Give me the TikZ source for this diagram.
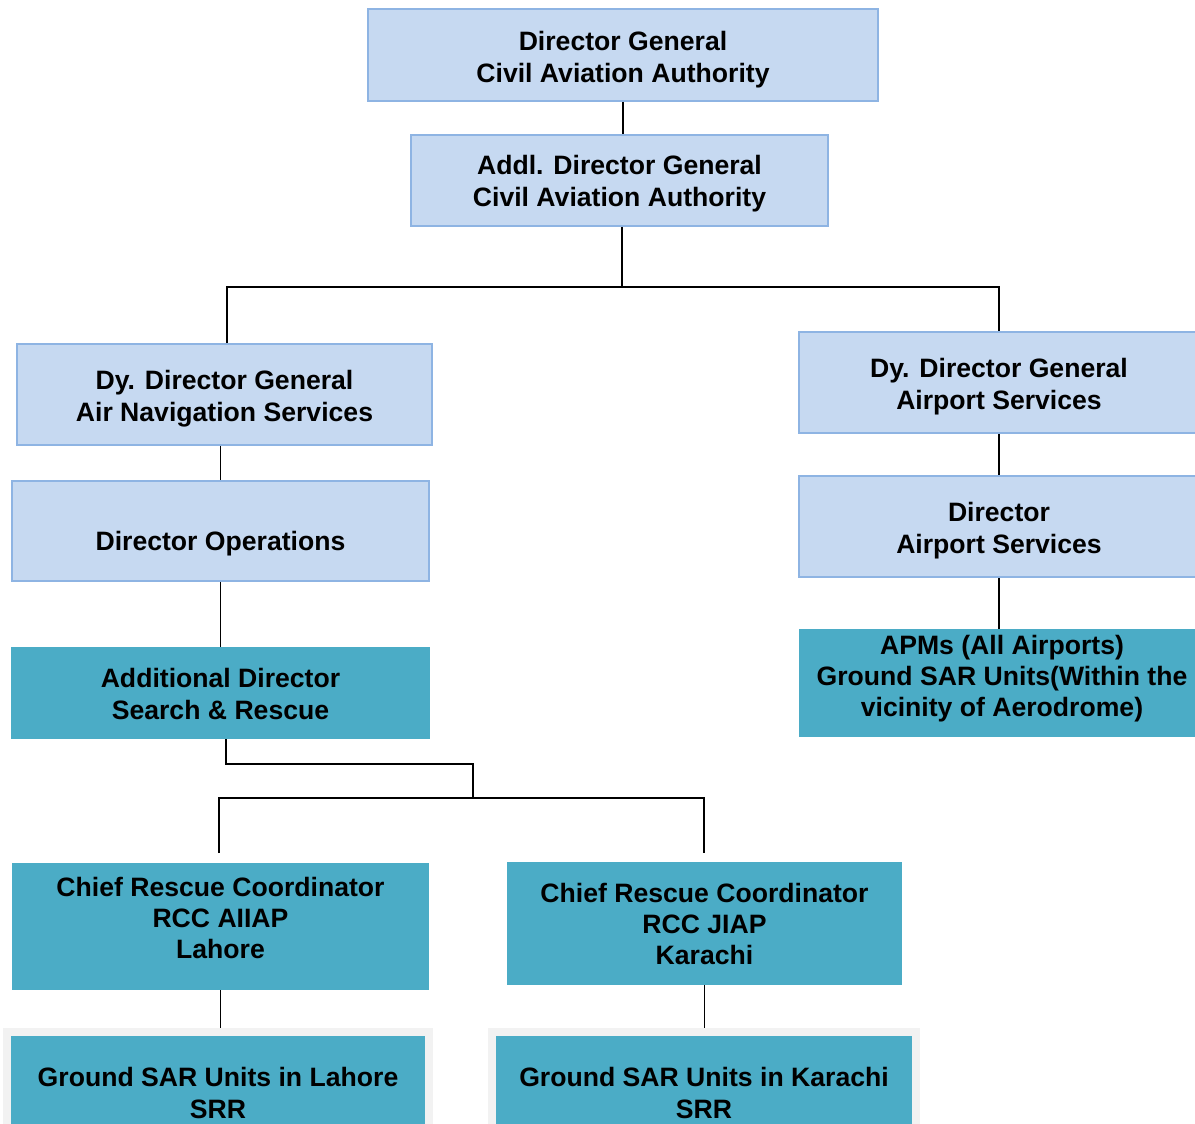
\documentclass[tikz,border=0pt]{standalone}
\usepackage{fontspec}
\setmainfont{Liberation Sans}
\definecolor{lbfill}{HTML}{C6D9F1}
\definecolor{lbline}{HTML}{8EB4E3}
\definecolor{sarteal}{HTML}{4BACC6}
\definecolor{bggrey}{HTML}{F2F2F2}
\tikzset{
  base/.style={inner sep=0pt, align=center, font=\fontsize{26.6}{32}\selectfont\bfseries, text=black},
  tight/.style={base, font=\fontsize{26.6}{31}\selectfont\bfseries},
  lightbox/.style={base, fill=lbfill, draw=lbline, line width=1.6pt},
  tealbox/.style={base, fill=sarteal},
  greybg/.style={inner sep=0pt, fill=bggrey},
  conn/.style={draw=black, line width=1.3pt},
}
\begin{document}
\begin{tikzpicture}[x=1pt, y=-1pt]
\useasboundingbox (0,0) rectangle (1195,1124);
\clip (0,0) rectangle (1195,1124);
% boxes
\node[lightbox, minimum width=510pt, minimum height=92pt, label={[base, yshift=-5pt]center:Director General\\Civil Aviation Authority}] (dg) at (623,55) {};
\node[lightbox, minimum width=417pt, minimum height=91pt, label={[base, yshift=-3pt]center:Addl. Director General\\Civil Aviation Authority}] (adg) at (619.5,180.5) {};
\node[lightbox, minimum width=415pt, minimum height=101pt, label={[base, yshift=-4pt]center:Dy. Director General\\Air Navigation Services}] (ans) at (224.5,394.5) {};
\node[lightbox, minimum width=400pt, minimum height=101pt, label={[base, yshift=-4pt]center:Dy. Director General\\Airport Services}] (das) at (999,382.5) {};
\node[lightbox, minimum width=417pt, minimum height=100pt, label={[base, yshift=-13pt]center:Director Operations}] (ops) at (220.5,531) {};
\node[lightbox, minimum width=400pt, minimum height=101pt, label={[base, yshift=-4pt]center:Director\\Airport Services}] (dir) at (999,526.5) {};
\node[tealbox, minimum width=419pt, minimum height=92pt, label={[base, yshift=-1pt]center:Additional Director\\Search \& Rescue}] (sar) at (220.5,693) {};
\node[tealbox, minimum width=400pt, minimum height=108pt, label={[tight, yshift=4pt, xshift=3pt]center:APMs (All Airports)\\Ground SAR Units(Within the\\vicinity of Aerodrome)}] (apm) at (999,683) {};
\node[tealbox, minimum width=417pt, minimum height=127pt, label={[tight, yshift=8.5pt]center:Chief Rescue Coordinator\\RCC AIIAP\\Lahore}] (crcL) at (220.5,926.5) {};
\node[tealbox, minimum width=395pt, minimum height=123pt, label={[tight]center:Chief Rescue Coordinator\\RCC JIAP\\Karachi}] (crcK) at (704.5,923.5) {};
\node[greybg, minimum width=430pt, minimum height=112pt] (bgL) at (218,1084) {};
\node[greybg, minimum width=432pt, minimum height=112pt] (bgK) at (704,1084) {};
\node[tealbox, minimum width=414pt, minimum height=114pt, label={[base]center:Ground SAR Units in Lahore\\SRR}] (gL) at (218,1093) {};
\node[tealbox, minimum width=416pt, minimum height=114pt, label={[base]center:Ground SAR Units in Karachi\\SRR}] (gK) at (704,1093) {};
% junction coordinates
\coordinate (j1) at (622,287);
\coordinate (s1) at (473,764);
\coordinate (s2) at (473,798);
\coordinate (lT) at (219,853);
\coordinate (kT) at (704,853);
% connectors
\draw[conn] (dg.south) -- (dg.south |- adg.north);
\draw[conn] (adg.south -| j1) -- (j1);
\draw[conn] ([xshift=2.5pt]ans.north) |- (j1) -| (das.north);
\draw[conn] (ops.north |- ans.south) -- (ops.north);
\draw[conn] (ops.south) -- (sar.north);
\draw[conn] (das.south) -- (dir.north);
\draw[conn] (dir.south) -- (apm.north);
\draw[conn] ([xshift=5.5pt]sar.south) |- (s1) -- (s2);
\draw[conn] (lT) |- (s2) -| (kT);
\draw[conn] (crcL.south) -- (crcL.south |- bgL.north);
\draw[conn] (crcK.south) -- (crcK.south |- bgK.north);
\end{tikzpicture}
\end{document}
